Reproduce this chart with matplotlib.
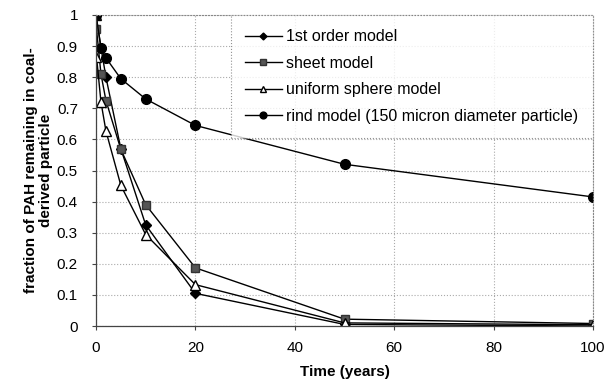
import matplotlib.pyplot as plt

plt.rcParams['font.family'] = ['Liberation Sans', 'DejaVu Sans']

## data
t_first = [0, 1, 2, 5, 10, 20, 50, 100]
first_order = [1.0, 0.895, 0.80, 0.57, 0.325, 0.105, 0.005, 0.0]

t_sheet = [0, 0.1, 1, 2, 5, 10, 20, 50, 100]
sheet = [1.0, 0.955, 0.81, 0.725, 0.568, 0.39, 0.187, 0.022, 0.008]

t_sphere = [0, 0.1, 1, 2, 5, 10, 20, 50, 100]
sphere = [1.0, 0.866, 0.72, 0.627, 0.452, 0.294, 0.133, 0.01, 0.004]

t_rind = [0, 1, 2, 5, 10, 20, 50, 100]
rind = [1.0, 0.895, 0.862, 0.795, 0.73, 0.645, 0.52, 0.415]

labels = ["1st order model", "sheet model", "uniform sphere model",
          "rind model (150 micron diameter particle)"]

fig = plt.figure(figsize=(6.06, 3.81), dpi=100)
ax = fig.add_axes([96/606, 1-326/381, 497/606, 311/381])

ax.plot(t_first, first_order, color='black', lw=1, marker='D', ms=5,
        mfc='black', mec='black', label=labels[0])
ax.plot(t_sheet, sheet, color='black', lw=1, marker='s', ms=6,
        mfc='#555555', mec='#333333', label=labels[1])
ax.plot(t_sphere, sphere, color='black', lw=1, marker='^', ms=7,
        mfc='white', mec='black', label=labels[2])
ax.plot(t_rind, rind, color='black', lw=1, marker='o', ms=7,
        mfc='black', mec='black', label=labels[3])

ax.set_xlim(0, 100)
ax.set_ylim(0, 1)
ax.set_xticks(range(0, 101, 20))
ax.set_yticks([i / 10 for i in range(11)])
ax.set_yticklabels(['%g' % (i / 10) for i in range(11)])
ax.tick_params(labelsize=11, length=3, width=0.8, color='#444444')
ax.tick_params(axis='x', pad=8)
ax.tick_params(axis='y', pad=10)

ax.grid(True, color='#aaaaaa', linestyle=':', linewidth=0.8)
ax.set_axisbelow(True)
for s in ['top', 'right']:
    ax.spines[s].set_linestyle(':')
    ax.spines[s].set_color('#888888')
for s in ['left', 'bottom']:
    ax.spines[s].set_color('#444444')
    ax.spines[s].set_linewidth(0.9)

ax.set_xlabel('Time (years)', fontsize=11, fontweight='bold', labelpad=7)
ax.set_ylabel('fraction of PAH remaining in coal-\nderived particle',
              fontsize=11, fontweight='bold', labelpad=3, linespacing=1.1)

leg = ax.legend(loc='upper right', bbox_to_anchor=(1.0, 1.0), fontsize=11.5,
                frameon=True, fancybox=False, handlelength=2.3,
                borderpad=0.9, labelspacing=0.72, handletextpad=0.3,
                markerscale=0.7, borderaxespad=0)
leg.get_frame().set_edgecolor('#777777')
leg.get_frame().set_linestyle(':')
leg.get_frame().set_linewidth(0.8)

fig.savefig('out.png', dpi=100)
